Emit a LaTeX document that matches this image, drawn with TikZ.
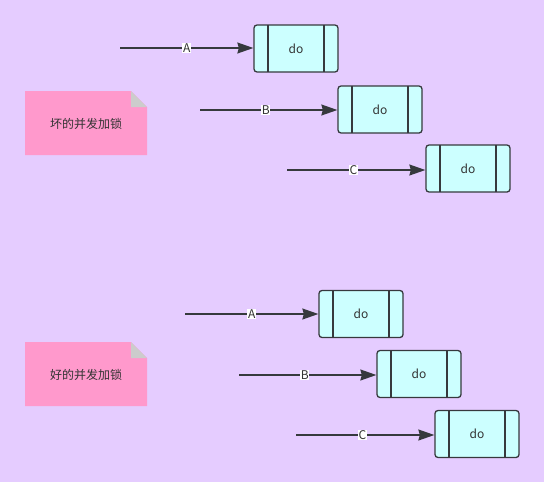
\documentclass[tikz,border=0pt]{standalone}
\usepackage{fontspec}
\setmainfont{Noto Sans CJK SC}
\usetikzlibrary{arrows.meta}
\definecolor{bgc}{HTML}{E5CCFF}
\definecolor{boxc}{HTML}{CCFFFF}
\definecolor{linec}{HTML}{36393D}
\definecolor{notec}{HTML}{FF99CC}
\definecolor{foldc}{HTML}{CCCCCC}
\definecolor{txtc}{HTML}{333333}
\tikzset{
  dobox/.style={draw=linec, line width=1.3pt, fill=boxc, rounded corners=3pt,
    minimum width=84pt, minimum height=47pt, inner sep=0pt, text=txtc,
    font=\fontsize{12}{14}\selectfont,
    path picture={\draw[linec, line width=1.3pt]
      ([xshift=14pt]path picture bounding box.north west) -- ([xshift=14pt]path picture bounding box.south west)
      ([xshift=-14pt]path picture bounding box.north east) -- ([xshift=-14pt]path picture bounding box.south east);}},
  flow/.style={draw=linec, line width=1.3pt, -{Stealth[length=16pt,width=11pt,inset=1.5pt]}},
  lbl/.style={fill=white, inner sep=0.6pt, text=txtc, font=\fontsize{12}{13}\selectfont},
  notetext/.style={text=txtc, font=\fontsize{12}{14}\selectfont}
}
\begin{document}
\begin{tikzpicture}[x=1pt,y=-1pt]
\fill[bgc] (0,0) rectangle (544,482);
\useasboundingbox (0,0) rectangle (544,482);
% notes
\foreach \ny/\nm/\txt in {91/n1/坏的并发加锁, 342/n2/好的并发加锁}{
  \fill[notec] (25,\ny) -- (131,\ny) -- (147,\ny+16) -- (147,\ny+64) -- (25,\ny+64) -- cycle;
  \fill[foldc] (131,\ny) -- (147,\ny+16) -- (131,\ny+16) -- cycle;
  \node[notetext] (\nm) at (86,\ny+33) {\txt};
}
% top group
\node[dobox] (ta) at (296,48.5) {do};
\node[dobox] (tb) at (380,109.5) {do};
\node[dobox] (tc) at (468,168.5) {do};
\coordinate (sa) at (120,48);
\coordinate (sb) at (200,110);
\coordinate (sc) at (287,170);
\draw[flow] (sa) -- node[lbl, pos=0.5]{A} (ta.west |- sa);
\draw[flow] (sb) -- node[lbl, pos=0.48]{B} (tb.west |- sb);
\draw[flow] (sc) -- node[lbl, pos=0.48]{C} (tc.west |- sc);
% bottom group
\node[dobox] (ba) at (361,314) {do};
\node[dobox] (bb) at (419,374) {do};
\node[dobox] (bc) at (477,434) {do};
\coordinate (ua) at (185,314);
\coordinate (ub) at (239,375);
\coordinate (uc) at (296,435);
\draw[flow] (ua) -- node[lbl, pos=0.5]{A} (ba.west |- ua);
\draw[flow] (ub) -- node[lbl, pos=0.48]{B} (bb.west |- ub);
\draw[flow] (uc) -- node[lbl, pos=0.48]{C} (bc.west |- uc);
\end{tikzpicture}
\end{document}
